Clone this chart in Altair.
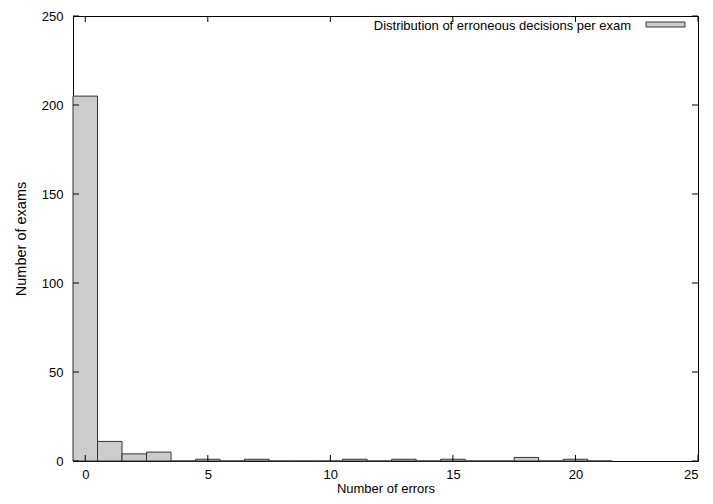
import altair as alt
import pandas as pd

errors = list(range(0, 22))
counts = [205, 11, 4, 5, 0, 1, 0, 1, 0, 0, 0, 1, 0, 1, 0, 1, 0, 0, 2, 0, 1, 0]
x_ticks = [0, 5, 10, 15, 20, 25]
y_ticks = [0, 50, 100, 150, 200, 250]
legend_label = "Distribution of erroneous decisions per exam"

df = pd.DataFrame({"n": errors, "count": counts})
df["x0"] = df["n"] - 0.5
df["x1"] = df["n"] + 0.5
df["base"] = 0

W, H = 625, 445
FONT = "Liberation Sans"
TL = 6

xs = alt.Scale(domain=[-0.5, 25], nice=False, zero=False)
ys = alt.Scale(domain=[0, 250], nice=False)

xaxis = alt.Axis(values=x_ticks, title="Number of errors", tickSize=0,
                 domain=False, grid=False, labelFont=FONT, labelFontSize=13,
                 labelPadding=7, titleFont=FONT, titleFontSize=13,
                 titleFontWeight="normal", titlePadding=1, labelColor="black",
                 titleColor="black")
yaxis = alt.Axis(values=y_ticks, title="Number of exams", tickSize=0,
                 domain=False, grid=False, labelFont=FONT, labelFontSize=13,
                 labelPadding=10, titleFont=FONT, titleFontSize=14.5,
                 titleFontWeight="normal", titlePadding=13, labelColor="black",
                 titleColor="black")

bars = alt.Chart(df).mark_rect(fill="#cccccc", stroke="#333333", strokeWidth=1).encode(
    x=alt.X("x0:Q", scale=xs, axis=xaxis),
    x2="x1:Q",
    y=alt.Y("count:Q", scale=ys, axis=yaxis),
    y2="base:Q",
)

xt = pd.DataFrame({"v": x_ticks})
yt = pd.DataFrame({"v": y_ticks})

xb = alt.Chart(xt).mark_rule(color="black", strokeWidth=1).encode(
    x=alt.X("v:Q", scale=xs, axis=xaxis), y=alt.value(H), y2=alt.value(H - TL))
xtp = alt.Chart(xt).mark_rule(color="black", strokeWidth=1).encode(
    x=alt.X("v:Q", scale=xs, axis=xaxis), y=alt.value(0), y2=alt.value(TL))
yl = alt.Chart(yt).mark_rule(color="black", strokeWidth=1).encode(
    y=alt.Y("v:Q", scale=ys, axis=yaxis), x=alt.value(0), x2=alt.value(TL))
yr = alt.Chart(yt).mark_rule(color="black", strokeWidth=1).encode(
    y=alt.Y("v:Q", scale=ys, axis=yaxis), x=alt.value(W), x2=alt.value(W - TL))

leg = pd.DataFrame({"label": [legend_label]})
leg_text = alt.Chart(leg).mark_text(align="right", baseline="middle", font=FONT, fontSize=13,
                                    color="black").encode(
    text="label:N", x=alt.value(558), y=alt.value(10))
leg_box = alt.Chart(leg).mark_rect(fill="#cccccc", stroke="#333333", strokeWidth=1).encode(
    x=alt.value(573), x2=alt.value(612), y=alt.value(6), y2=alt.value(11))

chart = alt.layer(bars, xb, xtp, yl, yr, leg_text, leg_box).properties(
    width=W, height=H,
    autosize=alt.AutoSizeParams(type="none"),
    padding={"left": 65, "top": 8, "right": 7, "bottom": 35},
).configure_view(stroke="black", strokeWidth=1)

chart.save("out.html", embed_options={"renderer": "svg", "actions": False})
